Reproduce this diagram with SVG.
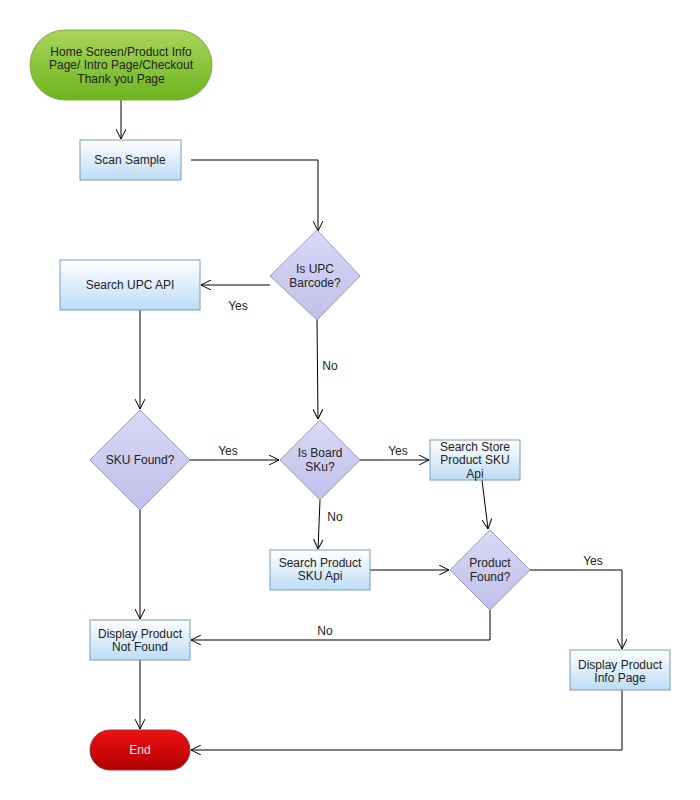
<svg xmlns="http://www.w3.org/2000/svg" width="700" height="800" viewBox="0 0 700 800">
<defs>
<linearGradient id="gBox" x1="0" y1="0" x2="0" y2="1"><stop offset="0" stop-color="#ffffff"/><stop offset="1" stop-color="#bcdcf5"/></linearGradient>
<linearGradient id="gDia" x1="0" y1="0" x2="0" y2="1"><stop offset="0" stop-color="#d8d8f6"/><stop offset="1" stop-color="#c0c0ea"/></linearGradient>
<linearGradient id="gStart" x1="0" y1="0" x2="0" y2="1"><stop offset="0" stop-color="#a8d65a"/><stop offset="1" stop-color="#6cb41e"/></linearGradient>
<linearGradient id="gEnd" x1="0" y1="0" x2="0" y2="1"><stop offset="0" stop-color="#ee1111"/><stop offset="1" stop-color="#b00000"/></linearGradient>
<marker id="arr" viewBox="0 0 10 10" refX="10" refY="5" markerWidth="10" markerHeight="10" markerUnits="userSpaceOnUse" orient="auto"><path d="M0,0 L10,5 L0,10" fill="none" stroke="#000" stroke-width="1"/></marker>
</defs>
<style>
text{font-family:"Liberation Sans",Arial,sans-serif;font-size:12px;fill:#222;text-anchor:middle}
.box{fill:url(#gBox);stroke:#7f9bb5;stroke-width:1}
.dia{fill:url(#gDia);stroke:#9b9bc5;stroke-width:1}
.c{fill:none;stroke:#000;stroke-width:1}
.a{marker-end:url(#arr)}
</style>
<rect width="700" height="800" fill="#fff"/>
<g id="connectors">
<path class="c a" d="M121,100 V139"/>
<path class="c a" d="M191,160 H318 V231"/>
<path class="c a" d="M270,285 H201"/>
<path class="c a" d="M140,310 V409"/>
<path class="c a" d="M190,460 H279"/>
<path class="c a" d="M317,320 L318,419"/>
<path class="c a" d="M360,460 H429"/>
<path class="c a" d="M320,500 L318,549"/>
<path class="c a" d="M482,480 L488,529"/>
<path class="c a" d="M370,570 H449"/>
<path class="c a" d="M530,570 H622 V649"/>
<path class="c a" d="M490,610 V640 H191"/>
<path class="c a" d="M140,510 V619"/>
<path class="c a" d="M140,660 V729"/>
<path class="c a" d="M622,690 V750 H191"/>
<text x="238" y="310">Yes</text>
<text x="330" y="370">No</text>
<text x="228" y="455">Yes</text>
<text x="398" y="455">Yes</text>
<text x="335" y="521">No</text>
<text x="593" y="565">Yes</text>
<text x="325" y="635">No</text>
</g>
<g id="start">
<rect x="30" y="30" width="182" height="70" rx="35" ry="35" fill="url(#gStart)" stroke="#7fa845"/>
<text x="121" y="55.8">Home Screen/Product Info</text>
<text x="121" y="69.3">Page/ Intro Page/Checkout</text>
<text x="121" y="82.8">Thank you Page</text>
</g>
<g id="scan">
<rect class="box" x="80" y="140" width="101" height="40"/>
<text x="130" y="164">Scan Sample</text>
</g>
<g id="isUpc">
<path class="dia" d="M317,230 L360,276 L317,320 L270,276 Z"/>
<text x="315" y="273.3">Is UPC</text>
<text x="315" y="286.8">Barcode?</text>
</g>
<g id="searchUpc">
<rect class="box" x="60" y="260" width="140" height="50"/>
<text x="130" y="289">Search UPC API</text>
</g>
<g id="skuFound">
<path class="dia" d="M140,410 L190,460 L140,510 L90,460 Z"/>
<text x="140" y="464">SKU Found?</text>
</g>
<g id="isBoard">
<path class="dia" d="M320,420 L360,460 L320,500 L280,460 Z"/>
<text x="320" y="457.3">Is Board</text>
<text x="320" y="470.8">SKu?</text>
</g>
<g id="searchStore">
<rect class="box" x="430" y="440" width="90" height="40"/>
<text x="475" y="450.8">Search Store</text>
<text x="475" y="464.3">Product SKU</text>
<text x="475" y="477.8">Api</text>
</g>
<g id="searchProduct">
<rect class="box" x="270" y="550" width="100" height="40"/>
<text x="320" y="566.5">Search Product</text>
<text x="320" y="580">SKU Api</text>
</g>
<g id="productFound">
<path class="dia" d="M490,530 L530,570 L490,610 L450,570 Z"/>
<text x="490" y="567.3">Product</text>
<text x="490" y="580.8">Found?</text>
</g>
<g id="notFound">
<rect class="box" x="90" y="620" width="100" height="40"/>
<text x="140" y="637.5">Display Product</text>
<text x="140" y="651">Not Found</text>
</g>
<g id="infoPage">
<rect class="box" x="570" y="650" width="100" height="40"/>
<text x="620" y="668.5">Display Product</text>
<text x="620" y="682">Info Page</text>
</g>
<g id="end">
<rect x="90" y="730" width="100" height="40" rx="20" ry="20" fill="url(#gEnd)" stroke="#a33"/>
<text x="140" y="754" style="fill:#ffe8e8">End</text>
</g>
</svg>
